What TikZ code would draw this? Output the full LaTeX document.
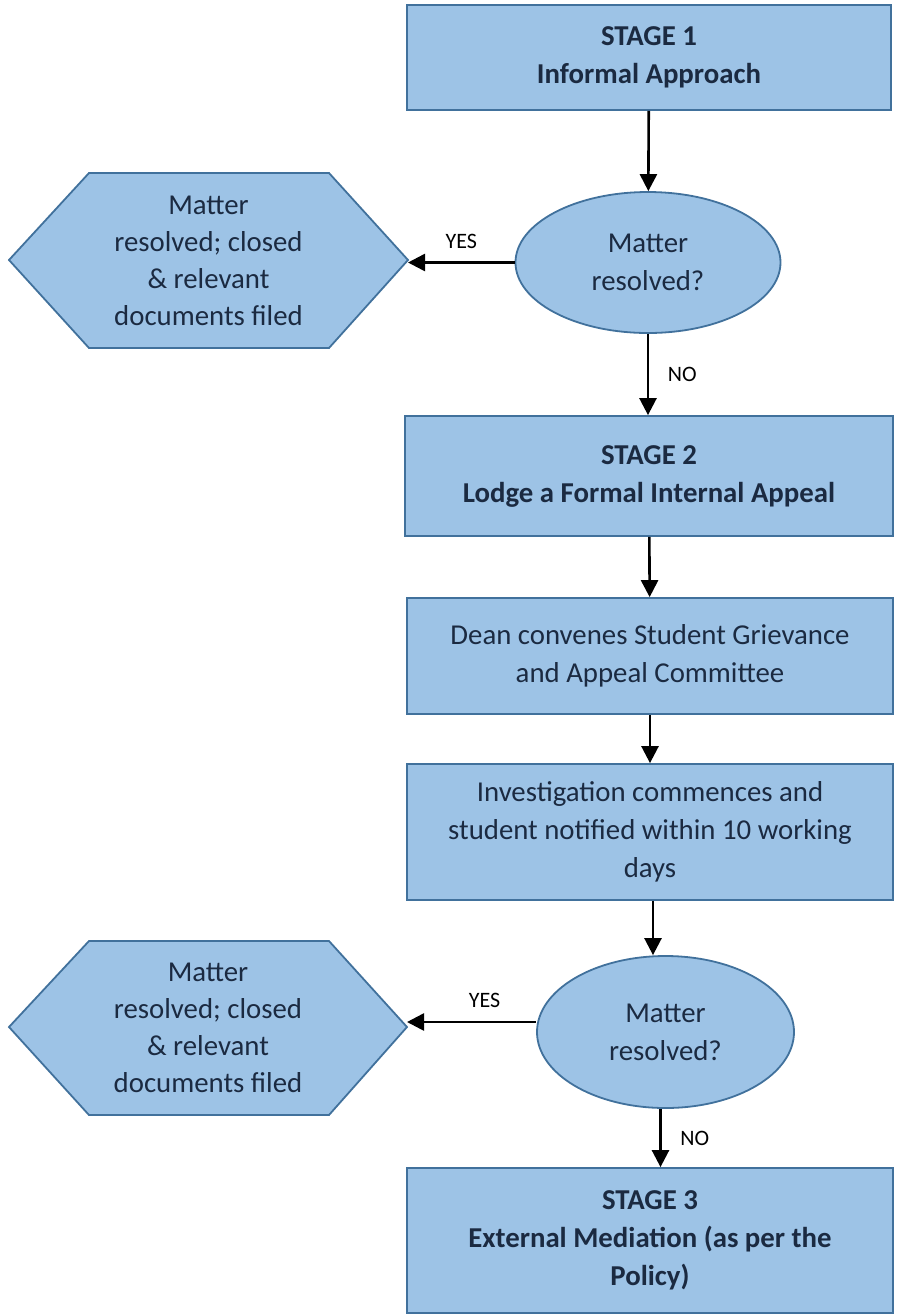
\documentclass[tikz,border=0pt]{standalone}
\usepackage{fontspec}
\setmainfont{Carlito}
\usepackage{xcolor}
\usetikzlibrary{arrows.meta, positioning, shapes.geometric}
\definecolor{boxfill}{HTML}{9DC3E6}
\definecolor{boxline}{HTML}{41719C}
\definecolor{boxtext}{HTML}{1B2A41}

\tikzset{
  stagebox/.style={draw=boxline, line width=0.9pt, fill=boxfill, text=boxtext,
    align=center, inner sep=0pt, font=\fontsize{14.4}{19}\selectfont\bfseries},
  procbox/.style={stagebox, font=\fontsize{14.4}{19}\selectfont},
  decision/.style={ellipse, draw=boxline, line width=0.9pt, fill=boxfill, text=boxtext,
    align=center, inner sep=0pt, font=\fontsize{14.4}{19}\selectfont},
  hexshape/.style={draw=boxline, line width=0.9pt, fill=boxfill},
  hextext/.style={align=center, text=boxtext, font=\fontsize{14.4}{18.5}\selectfont},
  flow/.style={-{Triangle[length=8.5pt,width=8.5pt]}, line width=1.3pt, black},
  answer/.style={font=\fontsize{11}{12}\selectfont, text=black}
}

\begin{document}
\begin{tikzpicture}[x=0.5pt, y=-0.5pt]
\useasboundingbox (0,0) rectangle (896,1314);

% Stage boxes and process steps
\node[stagebox, minimum width=242pt, minimum height=52.5pt] (stage1) at (649,57.5) {STAGE 1\\Informal Approach};
\node[decision, minimum width=132.5pt, minimum height=70.5pt] (check1) at (648,262.5) {Matter\\resolved?};
\node[stagebox, minimum width=244pt, minimum height=60pt] (stage2) at (649,476) {STAGE 2\\Lodge a Formal Internal Appeal};
\node[procbox, minimum width=243pt, minimum height=58pt] (dean) at (650,656) {Dean convenes Student Grievance\\and Appeal Committee};
\node[procbox, minimum width=243pt, minimum height=68pt] (invest) at (650,832) {Investigation commences and\\student notified within 10 working\\days};
\node[decision, minimum width=128.5pt, minimum height=76pt] (check2) at (665.5,1032) {Matter\\resolved?};
\node[stagebox, minimum width=243pt, minimum height=72.5pt] (stage3) at (650,1240.5) {STAGE 3\\External Mediation (as per the\\Policy)};

% Closed outcomes (hexagons)
\draw[hexshape] (9,260) -- (89,173) -- (329,173) -- (408,260) -- (329,348) -- (89,348) -- cycle;
\coordinate (closed1) at (408,260);
\node[hextext] (closedtext1) at (208.5,260.5) {Matter\\resolved; closed\\\& relevant\\documents filed};

\draw[hexshape] (9,1027) -- (89,941) -- (329,941) -- (407,1027) -- (329,1115) -- (89,1115) -- cycle;
\coordinate (closed2) at (407,1027);
\node[hextext] (closedtext2) at (208,1028) {Matter\\resolved; closed\\\& relevant\\documents filed};

% Connectors
\draw[flow] (stage1) -- (check1);
\draw[flow] (check1.west) -- (check1.west -| closed1) node[answer, pos=0.5, above=3pt] {YES};
\draw[flow] (check1) -- (check1.south |- stage2.north) node[answer, midway, right=6pt] {NO};
\draw[flow] (stage2) -- (dean);
\draw[flow] (dean) -- (invest);
\draw[flow] ([xshift=1.5pt]invest.south) -- ([xshift=1.5pt]invest.south |- check2.north);
\draw[flow] ([yshift=5pt]check2.west) -- ([yshift=5pt]check2.west -| closed2) node[answer, pos=0.4, above=3pt] {YES};
\draw[flow] ([xshift=-2.5pt]check2.south) -- ([xshift=-2.5pt]check2.south |- stage3.north) node[answer, midway, right=6pt] {NO};

\end{tikzpicture}
\end{document}
